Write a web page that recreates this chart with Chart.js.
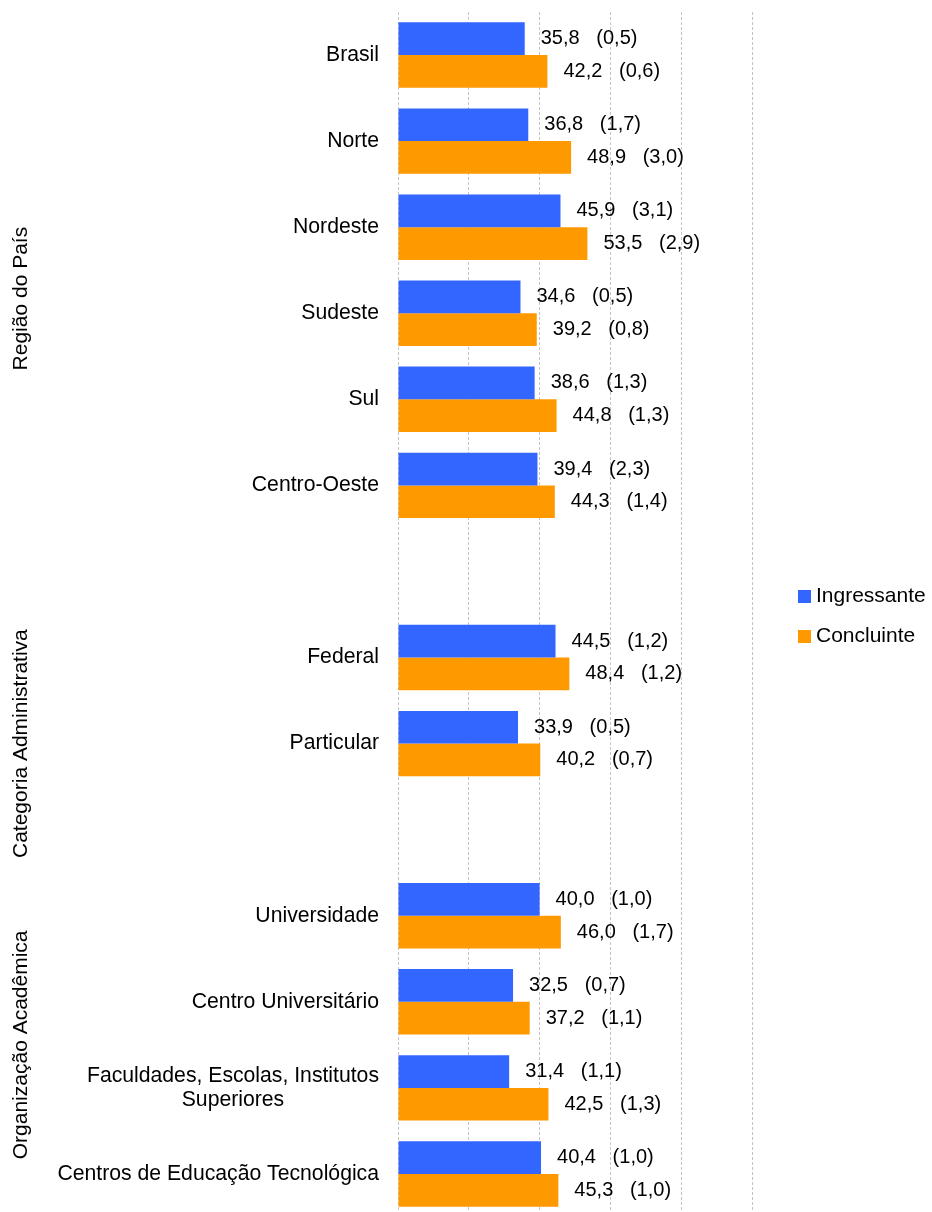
<!DOCTYPE html>
<html><head><meta charset="utf-8">
<script src="https://cdn.jsdelivr.net/npm/chart.js@4/dist/chart.umd.min.js"></script>
<style>html,body{margin:0;padding:0;background:#fff;overflow:hidden}#wrap{width:932px;height:1217px;position:relative}</style>
</head><body><div id="wrap"><canvas id="c"></canvas></div>
<script>
const categories = [["Brasil"],["Norte"],["Nordeste"],["Sudeste"],["Sul"],["Centro-Oeste"],[""],["Federal"],["Particular"],[""],["Universidade"],["Centro Universitário"],["Faculdades, Escolas, Institutos","Superiores"],["Centros de Educação Tecnológica"]];
const ingressante = [35.8,36.8,45.9,34.6,38.6,39.4,null,44.5,33.9,null,40.0,32.5,31.4,40.4];
const concluinte  = [42.2,48.9,53.5,39.2,44.8,44.3,null,48.4,40.2,null,46.0,37.2,42.5,45.3];
const seIngressante = [0.5,1.7,3.1,0.5,1.3,2.3,null,1.2,0.5,null,1.0,0.7,1.1,1.0];
const seConcluinte  = [0.6,3.0,2.9,0.8,1.3,1.4,null,1.2,0.7,null,1.7,1.1,1.3,1.0];
const groupTitles = ["Região do País","Categoria Administrativa","Organização Acadêmica"];
const seriesNames = ["Ingressante","Concluinte"];
const seriesColors = ["#3366ff","#ff9900"];

const FONT = '"Liberation Sans", Arial, Helvetica, sans-serif';
function fmt(v){ return v.toFixed(1).replace('.', ','); }

const customDraw = {
  id:'customDraw',
  afterDatasetsDraw(chart, args, opts){
    const ctx = chart.ctx, y = chart.scales.y, area = chart.chartArea;
    ctx.save();
    ctx.fillStyle = '#000';
    ctx.textBaseline = 'middle';
    // data labels
    ctx.font = '20px ' + FONT;
    ctx.textAlign = 'left';
    chart.data.datasets.forEach((ds, di) => {
      const meta = chart.getDatasetMeta(di);
      meta.data.forEach((bar, i) => {
        const v = ds.data[i];
        if (v == null) return;
        ctx.fillText(fmt(v) + '   (' + fmt(ds.se[i]) + ')', bar.x + 16, bar.y);
      });
    });
    // category labels
    ctx.font = '21.2px ' + FONT;
    ctx.textAlign = 'center';
    categories.forEach((lines, i) => {
      const cy = y.getPixelForValue(i);
      const maxW = Math.max(...lines.map(l => ctx.measureText(l).width));
      const cx = area.left - 19 - maxW / 2;
      lines.forEach((l, k) => ctx.fillText(l, cx, cy + (k - (lines.length - 1) / 2) * 24));
    });
    // group titles
    ctx.font = '21px ' + FONT;
    groupTitles.forEach((t, g) => {
      const cy = y.getPixelForValue(opts.groupCenters[g]);
      ctx.save();
      ctx.translate(21, cy);
      ctx.rotate(-Math.PI / 2);
      ctx.textAlign = 'center';
      ctx.fillText(t, 0, 0);
      ctx.restore();
    });
    // legend
    const midY = (area.top + area.bottom) / 2;
    ctx.textAlign = 'left';
    seriesNames.forEach((n, k) => {
      const ly = midY - 18 + k * 40;
      ctx.fillStyle = seriesColors[k];
      ctx.fillRect(area.right + 46, ly - 6.5, 13, 13);
      ctx.fillStyle = '#000';
      ctx.fillText(n, area.right + 64, ly);
    });
    ctx.restore();
  }
};

new Chart(document.getElementById('c'), {
  type: 'bar',
  data: {
    labels: categories,
    datasets: [
      {label: seriesNames[0], data: ingressante, se: seIngressante, backgroundColor: seriesColors[0]},
      {label: seriesNames[1], data: concluinte, se: seConcluinte, backgroundColor: seriesColors[1]}
    ]
  },
  options: {
    indexAxis: 'y',
    responsive: true,
    maintainAspectRatio: false,
    animation: false,
    categoryPercentage: 0.76,
    barPercentage: 1,
    layout: {padding: {left: 398, right: 180, top: 12, bottom: 0}},
    plugins: {
      legend: {display: false},
      tooltip: {enabled: false},
      customDraw: {groupCenters: [2.83, 8.0, 11.5]}
    },
    scales: {
      x: {min: 0, max: 100,
          ticks: {display: false, stepSize: 20},
          grid: {drawTicks: false, color: '#c4c4c4', lineWidth: 1},
          border: {display: false, dash: [3, 2]}},
      y: {display: false}
    }
  },
  plugins: [customDraw]
});
</script></body></html>
